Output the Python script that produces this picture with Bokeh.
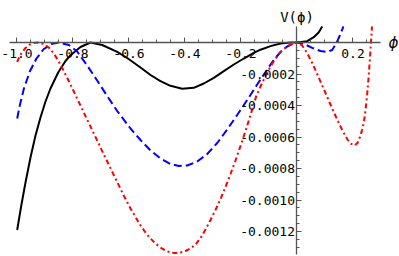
from bokeh.plotting import figure
from bokeh.models import FixedTicker, Label, Range1d
from bokeh.embed import file_html
from bokeh.resources import INLINE

# ---- data ----
black_phi = [-0.9993, -0.9850, -0.9696, -0.9518, -0.9339, -0.9161, -0.8982, -0.8804, -0.8529,
             -0.8268, -0.8089, -0.7732, -0.7375, -0.6957, -0.6421, -0.6064, -0.5589, -0.5232,
             -0.4875, -0.4518, -0.4100, -0.3686, -0.3329, -0.2971, -0.2614, -0.2257, -0.1900,
             -0.1543, -0.1304, -0.0946, -0.0589, -0.0232, 0.0, 0.0364, 0.0600, 0.0779, 0.0900]
black_v = [-0.0011905, -0.0010381, -0.0008889, -0.0007302, -0.0005905, -0.0004762, -0.0003746,
           -0.0002921, -0.0001905, -0.0001175, -0.0000806, -0.0000286, 0.0, -0.0000159,
           -0.0000590, -0.0000984, -0.0001587, -0.0002063, -0.0002457, -0.0002749, -0.0002940,
           -0.0002876, -0.0002603, -0.0002241, -0.0001822, -0.0001397, -0.0001016, -0.0000654,
           -0.0000457, -0.0000229, -0.0000063, -0.0000006, 0.0, 0.0000083, 0.0000337, 0.0000654,
           0.0001016]

blue_phi = [-0.9993, -0.9900, -0.9757, -0.9543, -0.9304, -0.9043, -0.8743, -0.8507, -0.8150,
            -0.7850, -0.7518, -0.7136, -0.6779, -0.6421, -0.5946, -0.5589, -0.5232, -0.4875,
            -0.4518, -0.4221, -0.3921, -0.3564, -0.3207, -0.2850, -0.2493, -0.2136, -0.1779,
            -0.1421, -0.1064, -0.0829, -0.0589, -0.0350, -0.0114, 0.0, 0.0243, 0.0543, 0.0839,
            0.1079, 0.1257, 0.1411, 0.1529, 0.1650, 0.1662]
blue_v = [-0.0004825, -0.0004, -0.0002952, -0.0001841, -0.0001016, -0.0000413, -0.0000083, 0.0,
          -0.0000159, -0.0000571, -0.0001397, -0.0002413, -0.0003397, -0.0004349, -0.0005460,
          -0.0006190, -0.0006857, -0.0007365, -0.0007714, -0.0007841, -0.0007810, -0.0007556,
          -0.0007079, -0.0006381, -0.0005524, -0.0004603, -0.0003651, -0.0002667, -0.0001714,
          -0.0001111, -0.0000603, -0.0000254, -0.0000051, 0.0, -0.0000089, -0.0000337,
          -0.0000540, -0.0000603, -0.0000476, -0.0000032, 0.0000444, 0.0000984, 0.0001016]

red_phi = [-0.9993, -0.9911, -0.9814, -0.9696, -0.9543, -0.9400, -0.9268, -0.9043, -0.8864,
           -0.8686, -0.8507, -0.8329, -0.8150, -0.7971, -0.7793, -0.7614, -0.7436, -0.7196,
           -0.6839, -0.6482, -0.6186, -0.5946, -0.5589, -0.5411, -0.5232, -0.5054, -0.4875,
           -0.4696, -0.4518, -0.4339, -0.4161, -0.3982, -0.3804, -0.3625, -0.3446, -0.3268,
           -0.3089, -0.2911, -0.2732, -0.2554, -0.2375, -0.2196, -0.2018, -0.1786, -0.1661,
           -0.1554, -0.1446, -0.1304, -0.1125, -0.0946, -0.0768, -0.0589, -0.0350, -0.0114, 0.0,
           0.0186, 0.0364, 0.0543, 0.0721, 0.0900, 0.1079, 0.1257, 0.1436, 0.1614, 0.1793,
           0.1911, 0.2054, 0.2161, 0.2250, 0.2329, 0.2386, 0.2446, 0.2500, 0.2554, 0.2607,
           0.2661, 0.2679]
red_v = [-0.0001238, -0.0000889, -0.0000603, -0.0000349, -0.0000127, -0.0000025, 0.0,
         -0.0000095, -0.0000317, -0.0000698, -0.0001206, -0.0001810, -0.0002444, -0.0003111,
         -0.0003778, -0.0004444, -0.0005111, -0.0006, -0.0007333, -0.0008635, -0.0009714,
         -0.0010540, -0.0011619, -0.0012063, -0.0012444, -0.0012762, -0.0013016, -0.0013206,
         -0.0013333, -0.0013365, -0.0013333, -0.0013238, -0.0013079, -0.0012825, -0.0012413,
         -0.0011873, -0.0011270, -0.0010635, -0.0009937, -0.0009175, -0.0008349, -0.0007492,
         -0.0006571, -0.0005333, -0.0004603, -0.0003968, -0.0003365, -0.0002794, -0.0002127,
         -0.0001524, -0.0001016, -0.0000603, -0.0000254, -0.0000038, 0.0, -0.0000190,
         -0.0000667, -0.0001302, -0.0002, -0.0002730, -0.0003460, -0.0004190, -0.0004889,
         -0.0005556, -0.0006127, -0.0006413, -0.0006540, -0.0006381, -0.0006, -0.0005524,
         -0.0005079, -0.0004317, -0.0003429, -0.0002286, -0.0000952, 0.0000508, 0.0001016]

x_ticks = [-1.0, -0.8, -0.6, -0.4, -0.2, 0.2]
x_tick_labels = ["-1.0", "-0.8", "-0.6", "-0.4", "-0.2", "0.2"]
x_minor = [-0.95, -0.9, -0.85, -0.75, -0.7, -0.65, -0.55, -0.5, -0.45, -0.35, -0.3, -0.25,
           -0.15, -0.1, -0.05, 0.05, 0.1, 0.15, 0.25]
y_ticks = [-0.0002, -0.0004, -0.0006, -0.0008, -0.0010, -0.0012]
y_tick_labels = ["-0.0002", "-0.0004", "-0.0006", "-0.0008", "-0.0010", "-0.0012"]
y_minor = [-0.00005, -0.0001, -0.00015, -0.00025, -0.0003, -0.00035, -0.00045, -0.0005,
           -0.00055, -0.00065, -0.0007, -0.00075, -0.00085, -0.0009, -0.00095, -0.00105,
           -0.0011, -0.00115, -0.00125, -0.0013]
x_axis_bounds = (-1.0268, 0.2982)
y_axis_bounds = (-0.001346, 0.0001016)

# ---- figure ----
p = figure(width=399, height=256, output_backend="svg", toolbar_location=None,
           x_range=Range1d(-1.0589, 0.3661), y_range=Range1d(-0.0013587, 0.0002667),
           min_border_left=0, min_border_right=0, min_border_top=0, min_border_bottom=0)
p.outline_line_color = None
p.grid.visible = False
p.background_fill_color = "white"
p.border_fill_color = "white"

p.line(black_phi, black_v, line_color="black", line_width=2)
p.line(blue_phi, blue_v, line_color="#0000ff", line_width=2, line_dash="8 4")
p.line(red_phi, red_v, line_color="#ff0000", line_width=2, line_dash="5 3 2 3")

mono = "DejaVu Sans Mono"
for ax in (p.xaxis[0], p.yaxis[0]):
    ax.fixed_location = 0
    ax.axis_line_color = "#555555"
    ax.axis_line_width = 1.3
    ax.major_tick_line_color = "#555555"
    ax.minor_tick_line_color = "#555555"
    ax.major_tick_out = 0
    ax.minor_tick_out = 0
    ax.major_tick_in = 5
    ax.minor_tick_in = 3
    ax.major_label_text_font = mono
    ax.major_label_text_font_size = "13px"
    ax.major_label_text_color = "black"

p.xaxis[0].bounds = x_axis_bounds
p.xaxis[0].ticker = FixedTicker(ticks=x_ticks, minor_ticks=x_minor)
p.xaxis[0].major_label_overrides = dict(zip(x_ticks, x_tick_labels))
p.xaxis[0].major_label_standoff = 6
p.yaxis[0].bounds = y_axis_bounds
p.yaxis[0].ticker = FixedTicker(ticks=y_ticks, minor_ticks=y_minor)
p.yaxis[0].major_label_overrides = dict(zip(y_ticks, y_tick_labels))
p.yaxis[0].major_label_standoff = 2

p.add_layout(Label(x=0.327, y=0, text="ϕ", text_align="left", text_baseline="middle",
                   text_font="DejaVu Sans", text_font_style="italic", text_font_size="15px",
                   text_color="black"))
p.add_layout(Label(x=0, y=0.00016, text="V(ϕ)", text_align="center", text_baseline="alphabetic",
                   text_font=mono, text_font_size="14px", text_color="black"))

open("out.html", "w").write(file_html(p, INLINE))
